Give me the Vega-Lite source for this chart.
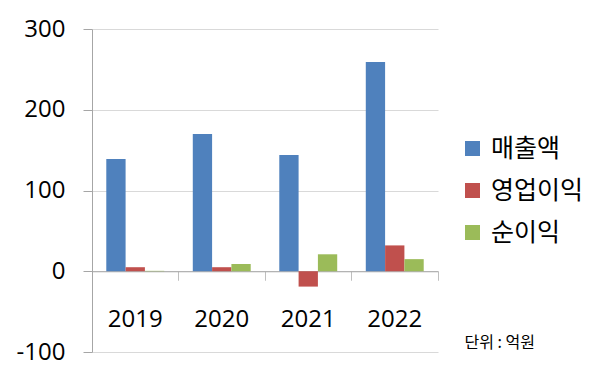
{
  "$schema": "https://vega.github.io/schema/vega-lite/v6.json",
  "width": 346,
  "height": 323,
  "autosize": "none",
  "padding": {"left": 92, "top": 29, "right": 162, "bottom": 29},
  "background": "white",
  "config": {"view": {"stroke": null}, "font": "Open Sans"},
  "title": {"text": "단위 : 억원", "orient": "bottom", "anchor": "end", "frame": "group", "font": "Noto Sans CJK KR", "fontSize": 16, "fontWeight": "normal", "color": "black", "dx": 97, "dy": -33},
  "data": {"values": [
    {"year": "2019", "metric": "매출액", "value": 139},
    {"year": "2019", "metric": "영업이익", "value": 5},
    {"year": "2019", "metric": "순이익", "value": 0.5},
    {"year": "2020", "metric": "매출액", "value": 170},
    {"year": "2020", "metric": "영업이익", "value": 5},
    {"year": "2020", "metric": "순이익", "value": 9},
    {"year": "2021", "metric": "매출액", "value": 144},
    {"year": "2021", "metric": "영업이익", "value": -19},
    {"year": "2021", "metric": "순이익", "value": 21},
    {"year": "2022", "metric": "매출액", "value": 259},
    {"year": "2022", "metric": "영업이익", "value": 32},
    {"year": "2022", "metric": "순이익", "value": 15}
  ]},
  "mark": {"type": "bar"},
  "encoding": {
    "x": {"field": "year", "type": "nominal", "scale": {"paddingInner": 0, "paddingOuter": 0},
      "axis": {"title": null, "orient": "bottom", "offset": -80.75, "bandPosition": 1, "tickExtra": true, "labelAngle": 0, "labelFontSize": 24, "labelPadding": 27, "labelColor": "black", "tickSize": 9, "tickColor": "#BFBFBF", "domainColor": "#A6A6A6", "grid": false}},
    "xOffset": {"field": "metric", "type": "nominal", "sort": ["매출액", "영업이익", "순이익"], "scale": {"paddingInner": 0, "paddingOuter": 0.74}},
    "y": {"field": "value", "type": "quantitative", "scale": {"domain": [-100, 300], "nice": false, "zero": false},
      "axis": {"title": null, "values": [-100, 0, 100, 200, 300], "labelExpr": "'' + datum.value", "grid": true, "gridColor": "#D9D9D9", "domainColor": "#A6A6A6", "tickColor": "#A6A6A6", "tickSize": 9, "labelFontSize": 24, "labelPadding": 18, "labelColor": "black"}},
    "color": {"field": "metric", "type": "nominal", "sort": ["매출액", "영업이익", "순이익"],
      "scale": {"domain": ["매출액", "영업이익", "순이익"], "range": ["#4F81BD", "#C0504D", "#9BBB59"]},
      "legend": {"title": null, "orient": "none", "legendX": 368, "legendY": 107, "symbolType": "square", "symbolSize": 225, "symbolStrokeWidth": 0, "labelFont": "Noto Sans CJK KR", "labelFontSize": 25, "labelColor": "black", "labelOffset": 6, "rowPadding": 16}}
  }
}
